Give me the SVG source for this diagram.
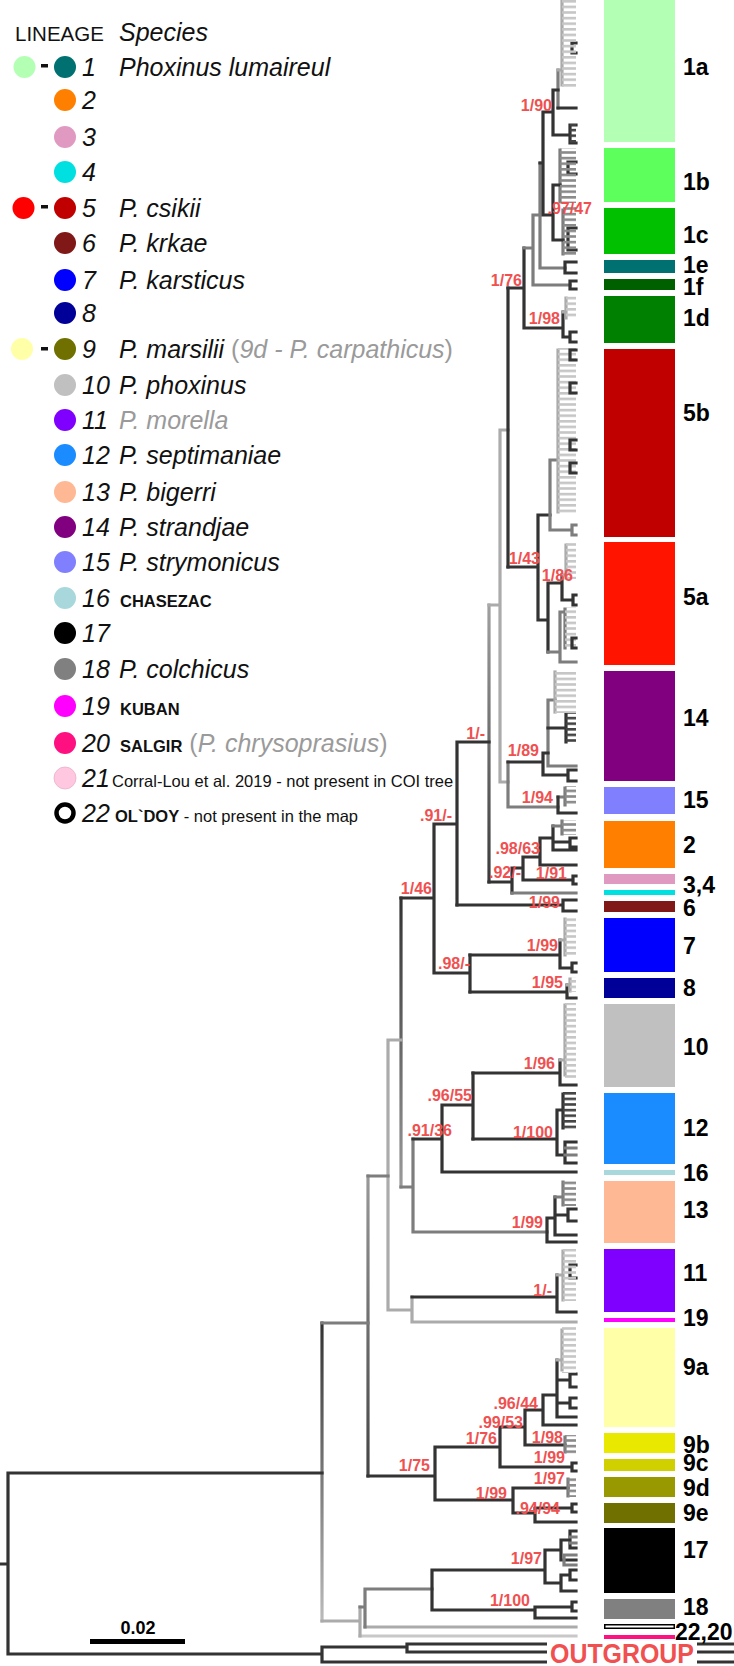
<svg xmlns="http://www.w3.org/2000/svg" width="734" height="1666" viewBox="0 0 734 1666">
<defs>
<pattern id="cl" patternUnits="userSpaceOnUse" width="20" height="5.6"><rect width="20" height="2.6" fill="#c6c6c6"/></pattern>
<pattern id="cg" patternUnits="userSpaceOnUse" width="20" height="5.6"><rect width="20" height="2.6" fill="#8a8a8a"/></pattern>
<pattern id="cd" patternUnits="userSpaceOnUse" width="20" height="5.6"><rect width="20" height="2.6" fill="#444"/></pattern>
<linearGradient id="g322" gradientUnits="userSpaceOnUse" x1="0" y1="1323" x2="0" y2="1621"><stop offset="0" stop-color="#333"/><stop offset="1" stop-color="#bbb"/></linearGradient>
<linearGradient id="g401" gradientUnits="userSpaceOnUse" x1="0" y1="898" x2="0" y2="1187"><stop offset="0" stop-color="#333"/><stop offset="1" stop-color="#9a9a9a"/></linearGradient>
<linearGradient id="g489" gradientUnits="userSpaceOnUse" x1="0" y1="605" x2="0" y2="882"><stop offset="0" stop-color="#a0a0a0"/><stop offset="1" stop-color="#3a3a3a"/></linearGradient>
<linearGradient id="g368" gradientUnits="userSpaceOnUse" x1="0" y1="1176" x2="0" y2="1476"><stop offset="0" stop-color="#999"/><stop offset="1" stop-color="#444"/></linearGradient>
</defs>
<style>
.t{font-family:"Liberation Sans",Arial,sans-serif}
.b{fill:none;stroke-width:3.2;stroke-linecap:square}
.d{stroke:#333}.g{stroke:#7d7d7d}.l{stroke:#ababab}.v{stroke:#c8c8c8}
.s{font-family:"Liberation Sans",Arial,sans-serif;font-weight:bold;font-size:16px;fill:#f05050;text-anchor:end}
.bl{font-family:"Liberation Sans",Arial,sans-serif;font-weight:bold;font-size:23px;fill:#000}
.n{font-family:"Liberation Sans",Arial,sans-serif;font-style:italic;font-size:25px;fill:#111}
.c{font-style:normal;font-weight:bold;font-size:16.5px}
.gr{fill:#9a9a9a}
.up{font-style:normal}
.sm{font-style:normal;font-size:16.5px}
</style>
<rect width="734" height="1666" fill="#fff"/>

<!-- legend -->
<g id="legend-head"><text class="t" x="15" y="41" font-size="20.5" fill="#111">LINEAGE</text><text class="n" x="119" y="41">Species</text></g>
<g id="legend-1"><circle cx="24.5" cy="67" r="11" fill="#b3ffb3"/><rect x="41" y="64" width="7" height="3.5" fill="#111"/><circle cx="65" cy="67" r="11" fill="#007070"/><text class="n" x="82" y="76">1</text><text class="n" x="119" y="76">Phoxinus lumaireul</text></g>
<g id="legend-2"><circle cx="65" cy="100" r="11" fill="#ff8000"/><text class="n" x="82" y="109">2</text></g>
<g id="legend-3"><circle cx="65" cy="137" r="11" fill="#e09ac2"/><text class="n" x="82" y="146">3</text></g>
<g id="legend-4"><circle cx="65" cy="172" r="11" fill="#00e0e0"/><text class="n" x="82" y="181">4</text></g>
<g id="legend-5"><circle cx="23.5" cy="208" r="11" fill="#ff0000"/><rect x="41" y="205" width="7" height="3.5" fill="#111"/><circle cx="65" cy="208" r="11" fill="#c00000"/><text class="n" x="82" y="217">5</text><text class="n" x="119" y="217">P. csikii</text></g>
<g id="legend-6"><circle cx="65" cy="243" r="11" fill="#801818"/><text class="n" x="82" y="252">6</text><text class="n" x="119" y="252">P. krkae</text></g>
<g id="legend-7"><circle cx="65" cy="280" r="11" fill="#0000ff"/><text class="n" x="82" y="289">7</text><text class="n" x="119" y="289">P. karsticus</text></g>
<g id="legend-8"><circle cx="65" cy="313" r="11" fill="#000099"/><text class="n" x="82" y="322">8</text></g>
<g id="legend-9"><circle cx="22" cy="349" r="11" fill="#ffffa8"/><rect x="41" y="347" width="7" height="3.5" fill="#111"/><circle cx="65" cy="349" r="11" fill="#707000"/><text class="n" x="82" y="358">9</text><text class="n" x="119" y="358">P. marsilii <tspan class="gr up">(</tspan><tspan class="gr">9d - P. carpathicus</tspan><tspan class="gr up">)</tspan></text></g>
<g id="legend-10"><circle cx="65" cy="385" r="11" fill="#c0c0c0"/><text class="n" x="82" y="394">10</text><text class="n" x="119" y="394">P. phoxinus</text></g>
<g id="legend-11"><circle cx="65" cy="420" r="11" fill="#8000ff"/><text class="n" x="82" y="429">11</text><text class="n gr" x="119" y="429">P. morella</text></g>
<g id="legend-12"><circle cx="65" cy="455" r="11" fill="#1a8cff"/><text class="n" x="82" y="464">12</text><text class="n" x="119" y="464">P. septimaniae</text></g>
<g id="legend-13"><circle cx="65" cy="492" r="11" fill="#ffb894"/><text class="n" x="82" y="501">13</text><text class="n" x="119" y="501">P. bigerri</text></g>
<g id="legend-14"><circle cx="65" cy="527" r="11" fill="#800080"/><text class="n" x="82" y="536">14</text><text class="n" x="119" y="536">P. strandjae</text></g>
<g id="legend-15"><circle cx="65" cy="562" r="11" fill="#8080ff"/><text class="n" x="82" y="571">15</text><text class="n" x="119" y="571">P. strymonicus</text></g>
<g id="legend-16"><circle cx="65" cy="598" r="11" fill="#a8d8dc"/><text class="n" x="82" y="607">16</text><text class="n c" x="120" y="607">CHASEZAC</text></g>
<g id="legend-17"><circle cx="65" cy="633" r="11" fill="#000"/><text class="n" x="82" y="642">17</text></g>
<g id="legend-18"><circle cx="65" cy="669" r="11" fill="#808080"/><text class="n" x="82" y="678">18</text><text class="n" x="119" y="678">P. colchicus</text></g>
<g id="legend-19"><circle cx="65" cy="706" r="11" fill="#ff00ff"/><text class="n" x="82" y="715">19</text><text class="n c" x="120" y="715">KUBAN</text></g>
<g id="legend-20"><circle cx="65" cy="743" r="11" fill="#ff1080"/><text class="n" x="82" y="752">20</text><text class="n" x="120" y="752"><tspan class="c">SALGIR</tspan> <tspan class="gr up">(</tspan><tspan class="gr">P. chrysoprasius</tspan><tspan class="gr up">)</tspan></text></g>
<g id="legend-21"><circle cx="65" cy="778" r="11" fill="#ffc8e0" stroke="#e8b0c8" stroke-width="0.8"/><text class="n" x="82" y="787">21</text><text class="n sm" x="112" y="787">Corral-Lou et al. 2019 - not present in COI tree</text></g>
<g id="legend-22"><circle cx="65" cy="813" r="8.5" fill="none" stroke="#000" stroke-width="4.5"/><text class="n" x="82" y="822">22</text><text class="n" x="115" y="822"><tspan class="c" font-size="15.5">OL`DOY</tspan><tspan class="sm"> - not present in the map</tspan></text></g>

<!-- tree connectors -->
<g id="connectors">
<path class="b" stroke="url(#g322)" d="M322 1323V1621"/>
<path class="b" stroke="url(#g368)" d="M368 1176V1476"/>
<path class="b" stroke="url(#g401)" d="M401 898V1187"/>
<path class="b" stroke="url(#g489)" d="M489 605V882"/>
<path class="b v" d="M360 1636H576"/>
<path class="b l" d="M322 1621H360 M360 1607V1636 M365 1627H576 M388 1040V1310 M388 1040H401 M388 1310H412 M412 1297V1322 M412 1322H576 M489 605H500 M500 430V782 M500 430H508 M500 782H508"/>
<path class="b g" d="M322 1323H368 M360 1607H365 M365 1589V1627 M365 1589H432 M368 1176H388 M401 1187H413 M413 1139V1232 M413 1232H547"/>
<path class="b d" d="M0 1564H8 M8 1473V1654 M8 1473H322 M8 1654H322 M322 1647V1662 M322 1647H407 M407 1644V1652 M407 1644H734 M407 1652H734 M322 1662H734"/>
<path class="b d" d="M401 898H434 M413 1139H442 M442 1105V1172 M442 1105H473 M473 1073V1139 M434 824V973 M434 824H457 M434 973H470 M470 955V992 M457 742V905 M457 742H489 M508 288V567 M442 1172H576"/>
<!-- clade 17/18 -->
<path class="b d" d="M432 1570V1610 M432 1570H545 M432 1610H535 M545 1550V1583 M545 1550H561 M545 1583H561 M561 1540V1560 M561 1575V1591 M561 1591H576 M561 1540H570 M561 1560H576 M561 1575H570 M570 1531V1548 M570 1570V1580 M570 1531H576 M570 1548H576 M570 1570H576 M570 1580H576 M535 1607V1618 M535 1607H572 M572 1602V1611 M572 1602H576 M572 1611H576 M535 1618H576"/>
<path class="b g" d="M570 1537H576 M570 1543H576 M564 1555V1565 M564 1555H576 M564 1565H576"/>
<!-- clade 9 -->
<path class="b d" d="M368 1476H435 M435 1447V1500 M435 1447H500 M435 1500H513 M500 1427V1467 M500 1427H525 M500 1467H572 M572 1463V1471 M572 1463H576 M572 1471H576 M525 1410V1445 M525 1410H543 M525 1445H565 M543 1395V1425 M543 1395H557 M543 1425H576 M557 1360V1417 M557 1417H576 M557 1380H570 M570 1374V1387 M570 1374H576 M570 1387H576 M557 1403H570 M570 1398V1408 M570 1398H576 M570 1408H576 M513 1488V1513 M513 1488H568 M513 1513H535 M535 1508V1522 M535 1508H572 M572 1504V1512 M572 1504H576 M572 1512H576 M535 1522H576"/>
<path class="b g" d="M565 1437V1452 M568 1479V1496"/>
<rect x="565" y="1435" width="11" height="19" fill="url(#cg)"/>
<rect x="568" y="1477" width="8" height="20" fill="url(#cg)"/>
<path class="b l" d="M557 1360H562 M562 1330V1370"/>
<rect x="562" y="1327" width="14" height="46" fill="url(#cl)"/>
<!-- clade 11 -->
<path class="b d" d="M412 1297H557 M557 1275V1312 M557 1312H576 M570 1265V1278 M570 1265H576 M570 1278H576"/>
<path class="b l" d="M557 1275H563 M563 1251V1300"/>
<rect x="563" y="1249" width="13" height="52" fill="url(#cl)"/>
<!-- clade 13 -->
<path class="b d" d="M547 1218V1242 M547 1242H576 M547 1218H555 M555 1197V1235 M555 1235H576 M555 1215H568 M568 1209V1221 M568 1209H576 M568 1221H576"/>
<path class="b g" d="M555 1197H563 M563 1182V1205"/>
<rect x="563" y="1180" width="13" height="26" fill="url(#cg)"/>
<!-- clade 12 -->
<path class="b d" d="M473 1139H557 M557 1110V1155 M557 1110H563 M563 1094V1128 M557 1155H565 M565 1142V1163 M565 1142H576 M565 1163H576"/>
<rect x="563" y="1092" width="13" height="37" fill="url(#cd)"/>
<path class="b g" d="M565 1148H576 M565 1155H576"/>
<!-- clade 10 -->
<path class="b d" d="M473 1073H560 M560 1060V1085 M560 1085H576"/>
<path class="b l" d="M560 1060H565 M565 1005V1075"/>
<rect x="565" y="1003" width="11" height="75" fill="url(#cl)"/>
<!-- clades 7, 8, 6 -->
<path class="b d" d="M470 955H560 M560 940V968 M560 968H572 M572 963V972 M572 963H576 M572 972H576 M470 992H567 M567 985V998 M567 998H576 M457 905H563 M563 900V911 M563 900H576 M563 911H576"/>
<path class="b l" d="M560 940H565 M565 919V955 M567 985H570 M570 979V991"/>
<rect x="565" y="917" width="11" height="40" fill="url(#cl)"/>
<rect x="570" y="977" width="6" height="15" fill="url(#cl)"/>
<!-- clades 2, 3, 4 -->
<path class="b d" d="M489 882H512 M512 868V893 M512 868H523 M523 857V880 M523 880H573 M573 876V884 M573 876H576 M573 884H576 M523 857H540 M540 838V865 M540 865H576 M540 838H553 M553 826V850 M553 850H576 M553 842H570 M570 838V847 M570 838H576 M570 847H576"/>
<path class="b g" d="M512 893H576 M553 826H562 M562 821V834"/>
<rect x="562" y="820" width="14" height="15" fill="url(#cg)"/>
<!-- clades 14, 15 -->
<path class="b g" d="M508 762V807 M508 807H558 M558 797H565 M565 788V805 M548 700V766 M548 766H576 M548 700H555"/>
<path class="b d" d="M508 762H543 M558 797V813 M558 813H576 M543 753V775 M543 775H568 M568 770V781 M568 770H576 M568 781H576 M543 753H548 M548 728H566 M566 714V742"/>
<rect x="565" y="786" width="11" height="20" fill="url(#cg)"/>
<path class="b l" d="M555 672V712"/>
<rect x="555" y="670" width="21" height="43" fill="url(#cl)"/>
<rect x="566" y="713" width="10" height="30" fill="url(#cd)"/>
<!-- clade 5 -->
<path class="b d" d="M508 567H538 M538 515V620 M538 515H550 M538 620H548 M548 583V652 M548 583H562 M562 575V600 M562 600H573 M573 595V605 M573 595H576 M573 605H576"/>
<path class="b g" d="M550 460V530 M550 530H572 M572 525V535 M572 525H576 M572 535H576 M550 460H558 M548 652H560 M560 612V662 M560 662H576 M560 612H565 M565 609V648"/>
<path class="b l" d="M558 350V512 M562 575H566 M566 545V578"/>
<rect x="558" y="348" width="18" height="167" fill="url(#cl)"/>
<rect x="566" y="543" width="10" height="36" fill="url(#cl)"/>
<rect x="565" y="607" width="11" height="42" fill="url(#cl)"/>
<path class="b d" d="M570 350V360 M570 350H576 M570 360H576 M570 383V393 M570 383H576 M570 393H576 M570 440V450 M570 440H576 M570 450H576 M570 463V473 M570 463H576 M570 473H576 M572 638V648 M572 638H576 M572 648H576"/>
<!-- clade 1 -->
<path class="b d" d="M508 288H524 M524 248V328 M524 328H563 M563 312V337 M563 337H570 M570 332V342 M570 332H576 M570 342H576"/>
<path class="b l" d="M563 312H566 M566 298V318"/>
<rect x="566" y="296" width="10" height="23" fill="url(#cl)"/>
<path class="b g" d="M524 248H533 M533 215V285 M533 285H570 M533 215H540 M540 163V268 M540 268H565 M558 70V108 M560 150V202 M563 210V254"/>
<path class="b d" d="M570 281V289 M570 281H576 M570 289H576 M565 262V273 M565 262H576 M565 273H576 M540 163H543 M543 112V215 M543 112H553 M553 90V135 M553 135H570 M570 125V143 M570 125H576 M570 143H576 M553 90H558 M558 108H576 M543 215H553 M553 185V240 M553 185H560 M553 240H563 M572 43V53 M572 43H576 M572 53H576 M568 162V174 M568 162H576 M568 174H576 M568 228V250 M568 228H576 M568 250H576"/>
<rect x="570" y="124" width="6" height="20" fill="url(#cd)"/>
<path class="b l" d="M558 70H562 M562 0V85"/>
<rect x="562" y="0" width="14" height="88" fill="url(#cl)"/>
<rect x="560" y="148" width="16" height="55" fill="url(#cg)"/>
<rect x="563" y="207" width="13" height="48" fill="url(#cg)"/>
</g>

<!-- support values -->
<g id="support">
<text class="s" x="552" y="111">1/90</text>
<text class="s" x="592" y="214">.97/47</text>
<text class="s" x="522" y="286">1/76</text>
<text class="s" x="560" y="324">1/98</text>
<text class="s" x="540" y="564">1/43</text>
<text class="s" x="573" y="581">1/86</text>
<text class="s" x="485" y="739">1/-</text>
<text class="s" x="539" y="756">1/89</text>
<text class="s" x="553" y="803">1/94</text>
<text class="s" x="452" y="821">.91/-</text>
<text class="s" x="540" y="854">.98/63</text>
<text class="s" x="521" y="878">.92/-</text>
<text class="s" x="567" y="879">1/91</text>
<text class="s" x="432" y="894">1/46</text>
<text class="s" x="560" y="908">1/99</text>
<text class="s" x="558" y="951">1/99</text>
<text class="s" x="470" y="969">.98/-</text>
<text class="s" x="563" y="988">1/95</text>
<text class="s" x="555" y="1069">1/96</text>
<text class="s" x="472" y="1101">.96/55</text>
<text class="s" x="452" y="1136">.91/36</text>
<text class="s" x="553" y="1138">1/100</text>
<text class="s" x="543" y="1228">1/99</text>
<text class="s" x="552" y="1296">1/-</text>
<text class="s" x="538" y="1409">.96/44</text>
<text class="s" x="523" y="1428">.99/53</text>
<text class="s" x="497" y="1444">1/76</text>
<text class="s" x="563" y="1443">1/98</text>
<text class="s" x="430" y="1471">1/75</text>
<text class="s" x="565" y="1463">1/99</text>
<text class="s" x="565" y="1484">1/97</text>
<text class="s" x="507" y="1499">1/99</text>
<text class="s" x="560" y="1514">.94/94</text>
<text class="s" x="542" y="1564">1/97</text>
<text class="s" x="530" y="1606">1/100</text>
</g>

<!-- lineage bars -->
<g id="bar-1a"><rect x="604" y="0" width="71" height="142" fill="#b3ffb3"/><text class="bl" x="683" y="75">1a</text></g>
<g id="bar-1b"><rect x="604" y="148" width="71" height="54" fill="#5cff5c"/><text class="bl" x="683" y="190">1b</text></g>
<g id="bar-1c"><rect x="604" y="208" width="71" height="46" fill="#00c000"/><text class="bl" x="683" y="243">1c</text></g>
<g id="bar-1e"><rect x="604" y="260" width="71" height="13" fill="#007070"/><text class="bl" x="683" y="273">1e</text></g>
<g id="bar-1f"><rect x="604" y="279" width="71" height="11" fill="#006000"/><text class="bl" x="683" y="295">1f</text></g>
<g id="bar-1d"><rect x="604" y="296" width="71" height="47" fill="#008000"/><text class="bl" x="683" y="326">1d</text></g>
<g id="bar-5b"><rect x="604" y="349" width="71" height="188" fill="#c00000"/><text class="bl" x="683" y="421">5b</text></g>
<g id="bar-5a"><rect x="604" y="542" width="71" height="123" fill="#ff1400"/><text class="bl" x="683" y="605">5a</text></g>
<g id="bar-14"><rect x="604" y="671" width="71" height="110" fill="#800080"/><text class="bl" x="683" y="726">14</text></g>
<g id="bar-15"><rect x="604" y="787" width="71" height="27" fill="#8080ff"/><text class="bl" x="683" y="808">15</text></g>
<g id="bar-2"><rect x="604" y="821" width="71" height="47" fill="#ff8000"/><text class="bl" x="683" y="853">2</text></g>
<g id="bar-3-4"><rect x="604" y="874" width="71" height="10" fill="#e09ac2"/><rect x="604" y="890" width="71" height="5" fill="#00e0e0"/><text class="bl" x="683" y="893">3,4</text></g>
<g id="bar-6"><rect x="604" y="901" width="71" height="11" fill="#801818"/><text class="bl" x="683" y="916">6</text></g>
<g id="bar-7"><rect x="604" y="918" width="71" height="54" fill="#0000ff"/><text class="bl" x="683" y="954">7</text></g>
<g id="bar-8"><rect x="604" y="978" width="71" height="20" fill="#000099"/><text class="bl" x="683" y="996">8</text></g>
<g id="bar-10"><rect x="604" y="1004" width="71" height="83" fill="#c0c0c0"/><text class="bl" x="683" y="1055">10</text></g>
<g id="bar-12"><rect x="604" y="1093" width="71" height="71" fill="#1a8cff"/><text class="bl" x="683" y="1136">12</text></g>
<g id="bar-16"><rect x="604" y="1170" width="71" height="5" fill="#a8d8dc"/><text class="bl" x="683" y="1181">16</text></g>
<g id="bar-13"><rect x="604" y="1181" width="71" height="62" fill="#ffb894"/><text class="bl" x="683" y="1218">13</text></g>
<g id="bar-11"><rect x="604" y="1249" width="71" height="63" fill="#8000ff"/><text class="bl" x="683" y="1281">11</text></g>
<g id="bar-19"><rect x="604" y="1318" width="71" height="4" fill="#ff00ff"/><text class="bl" x="683" y="1326">19</text></g>
<g id="bar-9a"><rect x="604" y="1328" width="71" height="99" fill="#ffffa8"/><text class="bl" x="683" y="1375">9a</text></g>
<g id="bar-9b"><rect x="604" y="1433" width="71" height="20" fill="#e8e800"/><text class="bl" x="683" y="1453">9b</text></g>
<g id="bar-9c"><rect x="604" y="1459" width="71" height="12" fill="#d0d000"/><text class="bl" x="683" y="1471">9c</text></g>
<g id="bar-9d"><rect x="604" y="1477" width="71" height="20" fill="#989800"/><text class="bl" x="683" y="1496">9d</text></g>
<g id="bar-9e"><rect x="604" y="1503" width="71" height="20" fill="#707000"/><text class="bl" x="683" y="1521">9e</text></g>
<g id="bar-17"><rect x="604" y="1528" width="71" height="65" fill="#000"/><text class="bl" x="683" y="1558">17</text></g>
<g id="bar-18"><rect x="604" y="1599" width="71" height="20" fill="#808080"/><text class="bl" x="683" y="1615">18</text></g>
<g id="bar-22-20"><rect x="604.75" y="1624.75" width="69.5" height="3.5" fill="#fff" stroke="#000" stroke-width="1.5"/><rect x="604" y="1635" width="71" height="4" fill="#ff1080"/><text class="bl" x="675" y="1640">22,20</text></g>
<g id="outgroup"><rect x="547" y="1641" width="150" height="25" fill="#fff"/><text class="t" x="550" y="1663" font-size="27" font-weight="bold" fill="#f05050" textLength="144" lengthAdjust="spacingAndGlyphs">OUTGROUP</text></g>

<!-- scale bar -->
<g id="scale"><rect x="90" y="1639" width="95" height="5" fill="#000"/><text class="t" x="138" y="1634" font-size="18" font-weight="bold" text-anchor="middle">0.02</text></g>
</svg>
